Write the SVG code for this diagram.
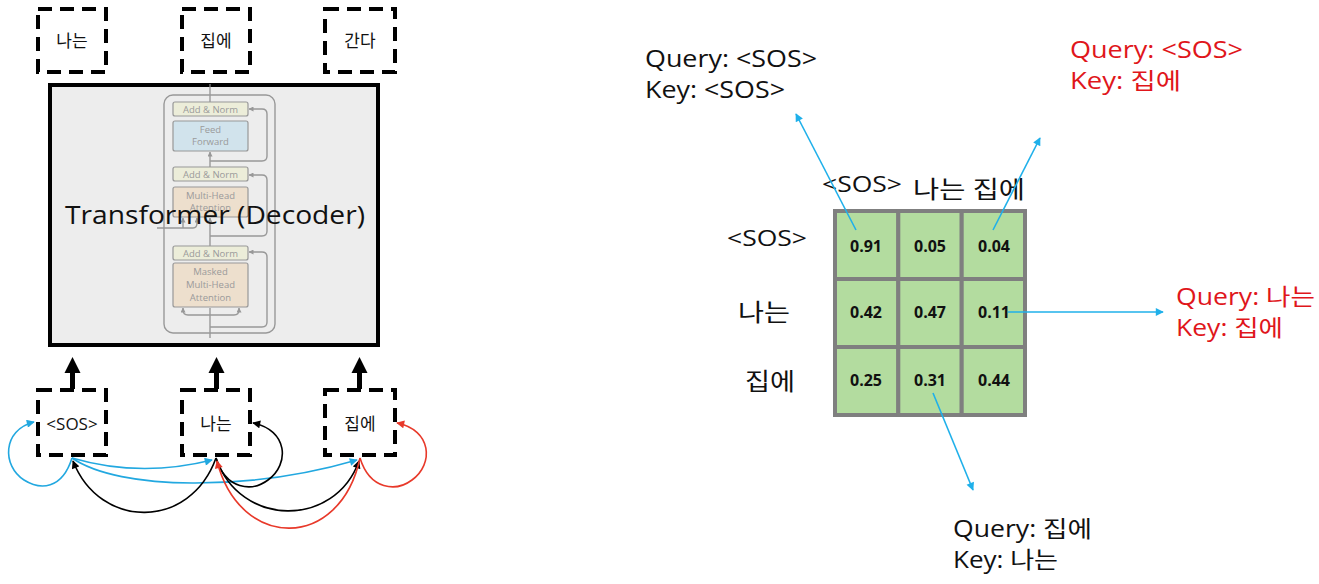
<svg xmlns="http://www.w3.org/2000/svg" width="1319" height="584" viewBox="0 0 1319 584">
<style>
  text { font-family: "Open Sans", "Noto Sans CJK KR", sans-serif; }
  .dash { fill: none; stroke: #000; stroke-width: 4; stroke-dasharray: 14 8; }
  .tok { font-size: 17px; fill: #111; text-anchor: middle; }
  .lbl { font-size: 23px; fill: #111; }
  .red { fill: #e0161b; }
  .cell { fill: #b3dc9f; stroke: #7f7f7f; stroke-width: 4; }
  .num { font-size: 16px; font-weight: bold; fill: #111; text-anchor: middle; }
  .inner { fill: none; stroke: #8a8a8a; stroke-width: 1.4; }
  .ib { stroke: #8a8a8a; stroke-width: 1.2; }
  .it { font-size: 9.5px; fill: #8c8c8c; text-anchor: middle; }
  .blue { fill: none; stroke: #22a8e0; stroke-width: 1.6; }
  .blk { fill: none; stroke: #000; stroke-width: 1.6; }
  .rd { fill: none; stroke: #e8392a; stroke-width: 1.6; }
  .call { fill: none; stroke: #1fb0ea; stroke-width: 1.6; }
</style>
<defs>
  <marker id="mb" viewBox="0 0 10 10" refX="9" refY="5" markerWidth="10" markerHeight="8" markerUnits="userSpaceOnUse" orient="auto"><path d="M0,0 L10,5 L0,10 z" fill="#22a8e0"/></marker>
  <marker id="mk" viewBox="0 0 10 10" refX="9" refY="5" markerWidth="10" markerHeight="8" markerUnits="userSpaceOnUse" orient="auto"><path d="M0,0 L10,5 L0,10 z" fill="#000"/></marker>
  <marker id="mr" viewBox="0 0 10 10" refX="9" refY="5" markerWidth="10" markerHeight="8" markerUnits="userSpaceOnUse" orient="auto"><path d="M0,0 L10,5 L0,10 z" fill="#e8392a"/></marker>
  <marker id="mg" viewBox="0 0 10 10" refX="9" refY="5" markerWidth="5" markerHeight="5" markerUnits="userSpaceOnUse" orient="auto"><path d="M0,0 L10,5 L0,10 z" fill="#8a8a8a"/></marker>
  <marker id="mc" viewBox="0 0 10 10" refX="9" refY="5" markerWidth="10" markerHeight="8" markerUnits="userSpaceOnUse" orient="auto"><path d="M0,0 L10,5 L0,10 z" fill="#1fb0ea"/></marker>
</defs>

<!-- output tokens -->
<g id="out-1"><rect class="dash" x="38" y="9" width="68" height="63"/><text class="tok" x="72" y="47">나는</text></g>
<g id="out-2"><rect class="dash" x="182" y="9" width="68" height="63"/><text class="tok" x="216" y="47">집에</text></g>
<g id="out-3"><rect class="dash" x="325" y="9" width="70" height="63"/><text class="tok" x="360" y="47">간다</text></g>

<!-- transformer -->
<g id="transformer">
  <rect x="50" y="85" width="328" height="260" fill="#ededed" stroke="#000" stroke-width="4"/>
  <g opacity="0.85">
    <rect class="inner" x="164" y="95" width="111" height="238" rx="9" fill="#e9e9e9"/>
    <path class="inner" d="M210,338 L210,308"/>
    <path class="inner" d="M210,246 L210,218" marker-end="url(#mg)"/>
    <path class="inner" d="M210,167 L210,152" marker-end="url(#mg)"/>
    <path class="inner" d="M210,102 L210,84"/>
    <path class="inner" d="M210,161 L262,161 Q267,161 267,156 L267,114 Q267,109 262,109 L249,109" marker-end="url(#mg)"/>
    <path class="inner" d="M210,236 L262,236 Q267,236 267,231 L267,180 Q267,175 262,175 L249,175" marker-end="url(#mg)"/>
    <path class="inner" d="M210,327 L262,327 Q267,327 267,322 L267,257 Q267,252 262,252 L249,252" marker-end="url(#mg)"/>
    <path class="inner" d="M210,315 L188,315 Q183,315 183,310 L183,308" marker-end="url(#mg)"/>
    <path class="inner" d="M210,315 L234,315 Q239,315 239,310 L239,308" marker-end="url(#mg)"/>
    <path class="inner" d="M157,228 L193,228 Q197,228 197,223 L197,218" marker-end="url(#mg)"/>
    <path class="inner" d="M183,228 L183,218" marker-end="url(#mg)"/>
    <rect class="ib" x="173" y="102" width="75" height="14" rx="2" fill="#eceed6"/>
    <text class="it" x="210.5" y="112.5">Add &amp; Norm</text>
    <rect class="ib" x="173" y="121" width="75" height="30" rx="2" fill="#cde2ec"/>
    <text class="it" x="210.5" y="133">Feed</text><text class="it" x="210.5" y="145">Forward</text>
    <rect class="ib" x="173" y="167" width="75" height="14" rx="2" fill="#eceed6"/>
    <text class="it" x="210.5" y="177.5">Add &amp; Norm</text>
    <rect class="ib" x="173" y="187" width="75" height="30" rx="2" fill="#eeddc8"/>
    <text class="it" x="210.5" y="199">Multi-Head</text><text class="it" x="210.5" y="211">Attention</text>
    <rect class="ib" x="173" y="246" width="75" height="14" rx="2" fill="#eceed6"/>
    <text class="it" x="210.5" y="256.5">Add &amp; Norm</text>
    <rect class="ib" x="173" y="263" width="75" height="44" rx="2" fill="#eeddc8"/>
    <text class="it" x="210.5" y="275">Masked</text><text class="it" x="210.5" y="288">Multi-Head</text><text class="it" x="210.5" y="301">Attention</text>
  </g>
  <text x="65" y="224" font-size="26" fill="#111" textLength="300" lengthAdjust="spacingAndGlyphs">Transformer (Decoder)</text>
</g>

<!-- input tokens -->
<g id="in-1"><rect class="dash" x="38" y="390" width="68" height="65"/><text class="tok" x="72" y="430">&lt;SOS&gt;</text></g>
<g id="in-2"><rect class="dash" x="182" y="390" width="68" height="65"/><text class="tok" x="216" y="430">나는</text></g>
<g id="in-3"><rect class="dash" x="325" y="390" width="70" height="65"/><text class="tok" x="360" y="430">집에</text></g>

<!-- attention matrix -->
<g id="matrix">
  <rect class="cell" x="835" y="211" width="63.3" height="68"/>
  <rect class="cell" x="898.3" y="211" width="63.4" height="68"/>
  <rect class="cell" x="961.7" y="211" width="63.3" height="68"/>
  <rect class="cell" x="835" y="279" width="63.3" height="68"/>
  <rect class="cell" x="898.3" y="279" width="63.4" height="68"/>
  <rect class="cell" x="961.7" y="279" width="63.3" height="68"/>
  <rect class="cell" x="835" y="347" width="63.3" height="68"/>
  <rect class="cell" x="898.3" y="347" width="63.4" height="68"/>
  <rect class="cell" x="961.7" y="347" width="63.3" height="68"/>
  <text class="num" x="866" y="252">0.91</text>
  <text class="num" x="930" y="252">0.05</text>
  <text class="num" x="994" y="252">0.04</text>
  <text class="num" x="866" y="318">0.42</text>
  <text class="num" x="930" y="318">0.47</text>
  <text class="num" x="994" y="318">0.11</text>
  <text class="num" x="866" y="386">0.25</text>
  <text class="num" x="930" y="386">0.31</text>
  <text class="num" x="994" y="386">0.44</text>
</g>
<g id="matrix-labels">
  <text x="822" y="192" font-size="22" fill="#111" textLength="80" lengthAdjust="spacingAndGlyphs">&lt;SOS&gt;</text>
  <text x="913" y="198" font-size="24" fill="#111" textLength="112" lengthAdjust="spacingAndGlyphs">나는 집에</text>
  <text x="727" y="246" font-size="22" fill="#111" textLength="80" lengthAdjust="spacingAndGlyphs">&lt;SOS&gt;</text>
  <text x="738" y="321" font-size="24" fill="#111" textLength="52" lengthAdjust="spacingAndGlyphs">나는</text>
  <text x="745" y="390" font-size="24" fill="#111" textLength="50" lengthAdjust="spacingAndGlyphs">집에</text>
</g>

<!-- connectors -->
<g id="connectors">
  <g fill="#000" stroke="none">
    <rect x="70" y="371" width="5" height="18"/><path d="M72.5,357 L64.5,373 L80.5,373 z"/>
    <rect x="214" y="371" width="5" height="18"/><path d="M216.5,357 L208.5,373 L224.5,373 z"/>
    <rect x="357" y="371" width="5" height="18"/><path d="M359.5,357 L351.5,373 L367.5,373 z"/>
  </g>
  <path class="blue" d="M72,458 C62,490 40,490 24,480 C2,466 2,430 34,422" marker-end="url(#mb)"/>
  <path class="blue" d="M72,458 Q140,478 212,460" marker-end="url(#mb)"/>
  <path class="blue" d="M72,458 C120,491 250,491 357,460" marker-end="url(#mb)"/>
  <path class="blk" d="M216,458 C190,530 100,530 73,461" marker-end="url(#mk)"/>
  <path class="blk" d="M216,458 C226,490 252,492 268,480 C290,464 288,430 253,423" marker-end="url(#mk)"/>
  <path class="blk" d="M216,458 C240,528 335,528 359,461" marker-end="url(#mk)"/>
  <path class="rd" d="M360,458 C340,551 240,551 217,461" marker-end="url(#mr)"/>
  <path class="rd" d="M360,458 C370,490 396,492 412,480 C434,464 432,430 397,423" marker-end="url(#mr)"/>
  <path class="call" d="M856,230 L796,114" marker-end="url(#mc)"/>
  <path class="call" d="M993,230 L1040,138" marker-end="url(#mc)"/>
  <path class="call" d="M1008,312 L1163,312" marker-end="url(#mc)"/>
  <path class="call" d="M933,393 L973,490" marker-end="url(#mc)"/>
</g>

<!-- callout labels -->
<g id="label-sos-sos">
  <text class="lbl" x="645" y="67" textLength="172" lengthAdjust="spacingAndGlyphs">Query: &lt;SOS&gt;</text>
  <text class="lbl" x="645" y="98" textLength="140" lengthAdjust="spacingAndGlyphs">Key: &lt;SOS&gt;</text>
</g>
<g id="label-sos-home">
  <text class="lbl red" x="1070" y="58" textLength="173" lengthAdjust="spacingAndGlyphs">Query: &lt;SOS&gt;</text>
  <text class="lbl red" x="1070" y="89" textLength="111" lengthAdjust="spacingAndGlyphs">Key: 집에</text>
</g>
<g id="label-i-home">
  <text class="lbl red" x="1176" y="305" textLength="139" lengthAdjust="spacingAndGlyphs">Query: 나는</text>
  <text class="lbl red" x="1176" y="336" textLength="107" lengthAdjust="spacingAndGlyphs">Key: 집에</text>
</g>
<g id="label-home-i">
  <text class="lbl" x="953" y="537" textLength="139" lengthAdjust="spacingAndGlyphs">Query: 집에</text>
  <text class="lbl" x="953" y="568" textLength="105" lengthAdjust="spacingAndGlyphs">Key: 나는</text>
</g>
</svg>
